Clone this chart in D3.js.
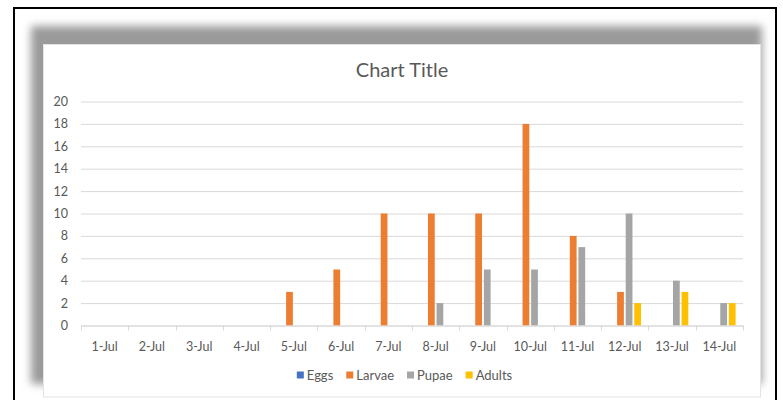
<!DOCTYPE html>
<html><head><meta charset="utf-8">
<script src="https://cdn.jsdelivr.net/npm/d3@7"></script>
<style>html,body{margin:0;padding:0;background:#fff;}svg{display:block;}</style>
</head><body>
<svg id="c" width="783" height="400"></svg>
<script>
const categories = ["1-Jul","2-Jul","3-Jul","4-Jul","5-Jul","6-Jul","7-Jul","8-Jul","9-Jul","10-Jul","11-Jul","12-Jul","13-Jul","14-Jul"];
const seriesNames = ["Eggs","Larvae","Pupae","Adults"];
const eggs   = [0,0,0,0,0,0,0,0,0,0,0,0,0,0];
const larvae = [0,0,0,0,3,5,10,10,10,18,8,3,0,0];
const pupae  = [0,0,0,0,0,0,0,2,5,5,7,10,4,2];
const adults = [0,0,0,0,0,0,0,0,0,0,0,2,3,2];
const yTicks = [0,2,4,6,8,10,12,14,16,18,20];
const colors = ["#4472C4","#ED7D31","#A5A5A5","#FFC000"];
const chartTitle = "Chart Title";

(function(){
const seriesValues = [eggs, larvae, pupae, adults];
const FONT = "Lato, 'Open Sans', sans-serif";
const svg = d3.select("#c");

// outer black frame
svg.append("rect").attr("x",14).attr("y",8).attr("width",762).attr("height",400)
  .attr("fill","#fff").attr("stroke","#000").attr("stroke-width",2);

// shadow
const defs = svg.append("defs");
const f = defs.append("filter").attr("id","sh").attr("x","-10%").attr("y","-10%").attr("width","120%").attr("height","120%");
f.append("feGaussianBlur").attr("stdDeviation",4.5);
svg.append("rect").attr("x",31).attr("y",26).attr("width",731).attr("height",358)
  .attr("fill","#9a9a9a").attr("filter","url(#sh)");

// chart area
svg.append("rect").attr("x",43.5).attr("y",44.5).attr("width",717).attr("height",352.5)
  .attr("fill","#fff").attr("stroke","#e3e3e3").attr("stroke-width",1);

svg.append("text").attr("x",402).attr("y",77).attr("text-anchor","middle")
  .attr("font-family",FONT).attr("font-size",20).attr("fill","#595959").text(chartTitle);

const pL = 81, pR = 743, pT = 101.5, pB = 325.5;
const y = d3.scaleLinear().domain([0,20]).range([pB, pT]);
const x0 = d3.scaleBand().domain(categories).range([pL, pR]).paddingInner(0).paddingOuter(0);
const step = x0.step();
const gap = step * (2.19/7) / 2;
const x1 = d3.scaleBand().domain(seriesNames).range([gap, step - gap]).paddingInner(0.27/1.27).paddingOuter(0);

// gridlines
const gy = svg.append("g").attr("transform",`translate(${pL},0)`)
  .call(d3.axisLeft(y).tickValues(yTicks).tickSize(-(pR-pL)).tickFormat(d3.format("d")).tickPadding(13));
gy.select(".domain").remove();
gy.selectAll(".tick line").attr("stroke","#d9d9d9").attr("stroke-width",1);
gy.selectAll(".tick text").attr("font-family",FONT).attr("font-size",12.5).attr("fill","#595959");

// bars
const groups = svg.append("g").selectAll("g").data(categories).join("g")
  .attr("transform", d => `translate(${x0(d)},0)`);
groups.selectAll("rect").data((d,i) => seriesNames.map((s,j) => ({s, v: seriesValues[j][i], c: colors[j]})))
  .join("rect")
  .attr("x", d => x1(d.s)).attr("width", x1.bandwidth())
  .attr("y", d => y(d.v)).attr("height", d => y(0) - y(d.v))
  .attr("fill", d => d.c);

// x axis
const gx = svg.append("g").attr("transform",`translate(0,${pB})`)
  .call(d3.axisBottom(x0).tickSize(0).tickPadding(17));
gx.select(".domain").attr("stroke","#d9d9d9");
gx.selectAll(".tick text").attr("font-family",FONT).attr("font-size",12.5).attr("fill","#595959");
// category boundary ticks
svg.append("g").selectAll("line").data(categories.concat(["__end"]))
  .join("line")
  .attr("x1", (d,i) => Math.round(pL + i*step)+0.5).attr("x2",(d,i) => Math.round(pL + i*step)+0.5)
  .attr("y1", pB).attr("y2", pB+5).attr("stroke","#d9d9d9");

// legend
const lg = svg.append("g");
let lx = 0;
seriesNames.forEach((s,j) => {
  const g = lg.append("g").attr("transform",`translate(${lx},0)`);
  g.append("rect").attr("x",0).attr("y",-3.5).attr("width",7).attr("height",7).attr("fill",colors[j]);
  const t = g.append("text").attr("x",10).attr("y",0).attr("dy","0.35em")
    .attr("font-family",FONT).attr("font-size",13).attr("fill","#595959").text(s);
  const w = t.node().getComputedTextLength();
  lx += 10 + w + 13;
});
const totalW = lx - 13;
lg.attr("transform",`translate(${404.5 - totalW/2},375)`);
})();
</script>
</body></html>
